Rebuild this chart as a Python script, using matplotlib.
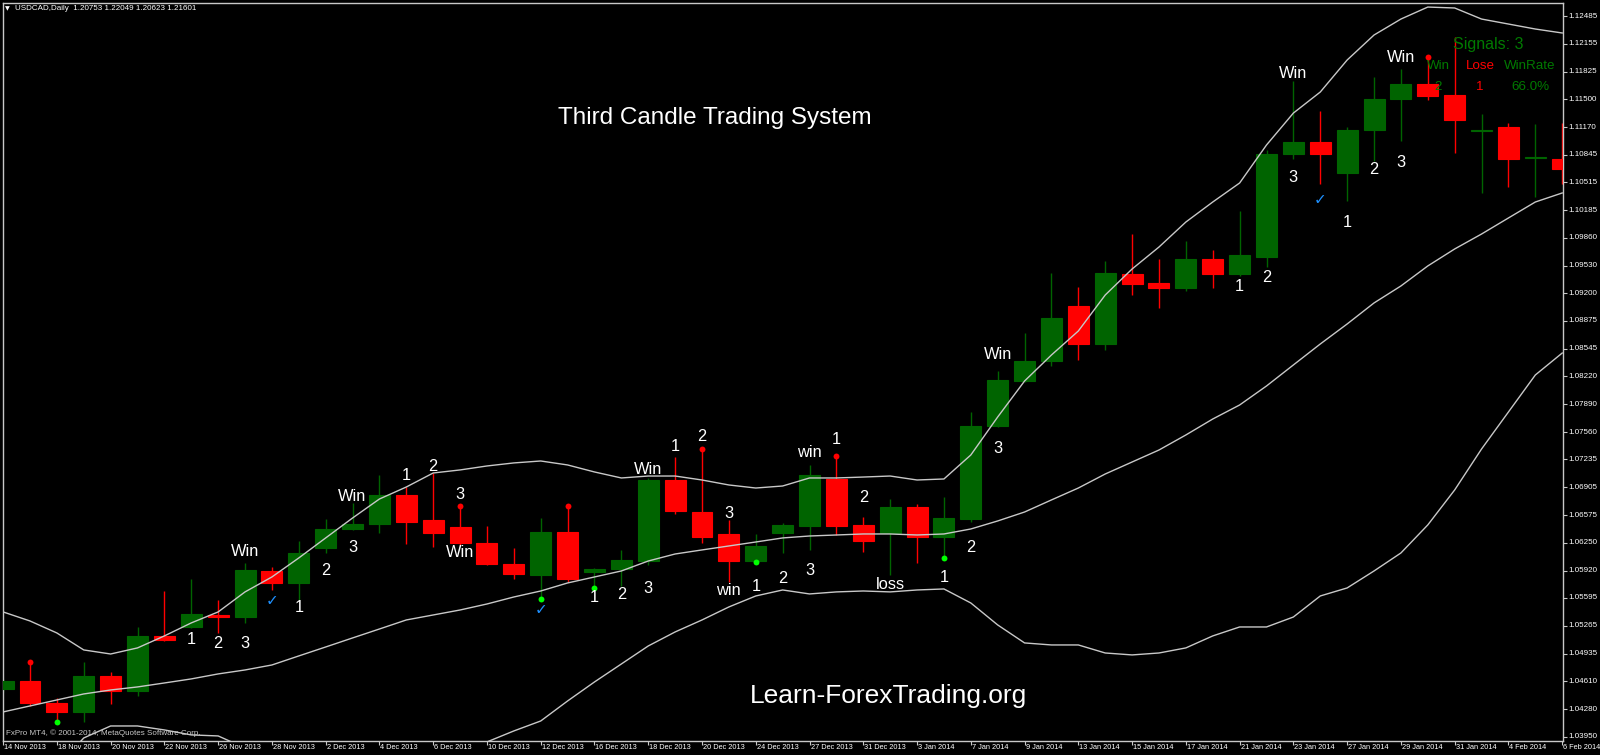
import matplotlib
matplotlib.use("Agg")
import matplotlib.pyplot as plt
import matplotlib.transforms as mtransforms
from matplotlib.patches import Rectangle

plt.rcParams['font.family'] = ['Liberation Sans', 'DejaVu Sans']

# ---------------- data ----------------
opens = [1.04518, 1.04613, 1.04352, 1.04246, 1.04672, 1.04495, 1.05146, 1.05252, 1.05394, 1.05371,
         1.05915, 1.05773, 1.06187, 1.06412, 1.06471, 1.06815, 1.06519, 1.06436, 1.06246, 1.05998,
         1.05868, 1.06377, 1.05903, 1.05939, 1.06033, 1.06992, 1.06614, 1.06353, 1.06033, 1.06365,
         1.06448, 1.07004, 1.06460, 1.06365, 1.06673, 1.06318, 1.06531, 1.07632, 1.08164, 1.08401,
         1.09052, 1.08602, 1.09431, 1.09324, 1.09265, 1.09608, 1.09431, 1.09632, 1.10851, 1.10993,
         1.10627, 1.11135, 1.11502, 1.11680, 1.11550, 1.11124, 1.11171, 1.10804, 1.10792]
highs = [1.04637, 1.04837, 1.04412, 1.04838, 1.04719, 1.05252, 1.05678, 1.05820, 1.05572, 1.06010,
         1.05962, 1.06270, 1.06531, 1.06720, 1.07051, 1.06909, 1.07075, 1.06684, 1.06448, 1.06187,
         1.06542, 1.06684, 1.05951, 1.06164, 1.07016, 1.07265, 1.07359, 1.06519, 1.06353, 1.06483,
         1.07170, 1.07276, 1.06554, 1.06767, 1.06708, 1.06791, 1.07797, 1.08283, 1.08732, 1.09443,
         1.09277, 1.09585, 1.09904, 1.09608, 1.09821, 1.09715, 1.10177, 1.10899, 1.11716, 1.11360,
         1.11171, 1.11763, 1.11858, 1.11999, 1.12236, 1.11325, 1.11218, 1.11206, 1.11218]
lows = [1.04483, 1.04317, 1.04127, 1.04128, 1.04341, 1.04435, 1.05086, 1.05240, 1.05181, 1.05300,
        1.05690, 1.05572, 1.06128, 1.06400, 1.06365, 1.06235, 1.06199, 1.06223, 1.05986, 1.05820,
        1.05583, 1.05785, 1.05713, 1.05737, 1.05986, 1.06590, 1.06246, 1.05785, 1.06021, 1.06128,
        1.06164, 1.06341, 1.06140, 1.05868, 1.06010, 1.06069, 1.06495, 1.07620, 1.08152, 1.08342,
        1.08413, 1.08531, 1.09182, 1.09028, 1.09230, 1.09265, 1.09407, 1.09514, 1.10792, 1.10496,
        1.10295, 1.10769, 1.11005, 1.11491, 1.10863, 1.10390, 1.10461, 1.10342, 1.10496]
closes = [1.04613, 1.04352, 1.04246, 1.04672, 1.04495, 1.05146, 1.05098, 1.05406, 1.05371, 1.05927,
          1.05773, 1.06128, 1.06412, 1.06471, 1.06815, 1.06495, 1.06365, 1.06246, 1.05998, 1.05880,
          1.06377, 1.05820, 1.05939, 1.06045, 1.06992, 1.06625, 1.06318, 1.06033, 1.06211, 1.06460,
          1.07051, 1.06448, 1.06270, 1.06673, 1.06318, 1.06542, 1.07632, 1.08176, 1.08401, 1.08910,
          1.08602, 1.09443, 1.09313, 1.09265, 1.09608, 1.09431, 1.09656, 1.10851, 1.10993, 1.10851,
          1.11135, 1.11502, 1.11680, 1.11538, 1.11254, 1.11135, 1.10792, 1.10816, 1.10674]

bb_upper = [1.05430, 1.05323, 1.05181, 1.04980, 1.04932, 1.05004, 1.05146, 1.05300, 1.05430, 1.05667,
            1.05844, 1.06069, 1.06306, 1.06542, 1.06767, 1.06909, 1.07075, 1.07111, 1.07158, 1.07194,
            1.07217, 1.07170, 1.07087, 1.07016, 1.07039, 1.07039, 1.06992, 1.06933, 1.06897, 1.06921,
            1.07016, 1.07016, 1.07027, 1.07039, 1.06992, 1.07004, 1.07288, 1.07738, 1.08164, 1.08472,
            1.08756, 1.09182, 1.09490, 1.09750, 1.10046, 1.10283, 1.10508, 1.10958, 1.11336, 1.11585,
            1.11964, 1.12260, 1.12449, 1.12591, 1.12580, 1.12449, 1.12390, 1.12331, 1.12284]
bb_mid = [1.04246, 1.04317, 1.04388, 1.04459, 1.04506, 1.04542, 1.04589, 1.04637, 1.04696, 1.04743,
          1.04802, 1.04909, 1.05015, 1.05122, 1.05228, 1.05335, 1.05394, 1.05453, 1.05524, 1.05607,
          1.05678, 1.05773, 1.05844, 1.05915, 1.06033, 1.06116, 1.06164, 1.06211, 1.06258, 1.06306,
          1.06329, 1.06341, 1.06353, 1.06353, 1.06341, 1.06353, 1.06412, 1.06507, 1.06613, 1.06756,
          1.06897, 1.07063, 1.07205, 1.07347, 1.07525, 1.07714, 1.07880, 1.08105, 1.08354, 1.08602,
          1.08839, 1.09088, 1.09289, 1.09526, 1.09727, 1.09904, 1.10094, 1.10283, 1.10390]
bb_lower = [1.03062, 1.03311, 1.03595, 1.03938, 1.04080, 1.04080, 1.04033, 1.03974, 1.03962, 1.03820,
            1.03761, 1.03749, 1.03725, 1.03701, 1.03690, 1.03761, 1.03713, 1.03796, 1.03891, 1.04021,
            1.04139, 1.04376, 1.04601, 1.04814, 1.05027, 1.05193, 1.05335, 1.05489, 1.05619, 1.05690,
            1.05643, 1.05667, 1.05678, 1.05667, 1.05690, 1.05702, 1.05536, 1.05276, 1.05063, 1.05039,
            1.05039, 1.04944, 1.04921, 1.04944, 1.05004, 1.05146, 1.05252, 1.05252, 1.05370, 1.05619,
            1.05714, 1.05915, 1.06128, 1.06460, 1.06874, 1.07359, 1.07797, 1.08235, 1.08495]

date_labels = ["14 Nov 2013", "18 Nov 2013", "20 Nov 2013", "22 Nov 2013", "26 Nov 2013",
               "28 Nov 2013", "2 Dec 2013", "4 Dec 2013", "6 Dec 2013", "10 Dec 2013",
               "12 Dec 2013", "16 Dec 2013", "18 Dec 2013", "20 Dec 2013", "24 Dec 2013",
               "27 Dec 2013", "31 Dec 2013", "3 Jan 2014", "7 Jan 2014", "9 Jan 2014",
               "13 Jan 2014", "15 Jan 2014", "17 Jan 2014", "21 Jan 2014", "23 Jan 2014",
               "27 Jan 2014", "29 Jan 2014", "31 Jan 2014", "4 Feb 2014", "6 Feb 2014"]
date_bars = [0, 2, 4, 6, 8, 10, 12, 14, 16, 18, 20, 22, 24, 26, 28,
             30, 32, 34, 36, 38, 40, 42, 44, 46, 48, 50, 52, 54, 56, 58]

price_ticks = [1.12485, 1.12155, 1.11825, 1.11500, 1.11170, 1.10845, 1.10515, 1.10185, 1.09860,
               1.09530, 1.09200, 1.08875, 1.08545, 1.08220, 1.07890, 1.07560, 1.07235, 1.06905,
               1.06575, 1.06250, 1.05920, 1.05595, 1.05265, 1.04935, 1.04610, 1.04280, 1.03950]

red_dot_bars = [1, 17, 21, 26, 31, 53]
green_dot_bars = [2, 20, 22, 28, 35]

ann_bar = [7, 8, 9, 9, 11, 12, 13, 13, 15, 16, 17, 17, 22, 23, 24, 24, 25, 26, 27, 27,
           28, 29, 30, 30, 31, 32, 33, 35, 36, 37, 37, 46, 47, 48, 48, 50, 51, 52, 52]
ann_price = [1.05098, 1.05062, 1.05062, 1.06140, 1.05477, 1.05915, 1.06187, 1.06791, 1.07051, 1.07146,
             1.06826, 1.06128, 1.05595, 1.05642, 1.05702, 1.07122, 1.07383, 1.07501, 1.06601, 1.05678,
             1.05737, 1.05820, 1.05915, 1.07312, 1.07477, 1.06779, 1.05749, 1.05832, 1.06187, 1.07359,
             1.08472, 1.09288, 1.09395, 1.10579, 1.11810, 1.10046, 1.10662, 1.10756, 1.11999]
ann_text = ["1", "2", "3", "Win", "1", "2", "3", "Win", "1", "2",
            "3", "Win", "1", "2", "3", "Win", "1", "2", "3", "win",
            "1", "2", "3", "win", "1", "2", "loss", "1", "2", "3",
            "Win", "1", "2", "3", "Win", "1", "2", "3", "Win"]

check_bar = [10, 20, 49]
check_price = [1.05571, 1.05453, 1.10318]

signals_total = 3
wins, losses, winrate = 2, 1, "66.0%"

# ---------------- style ----------------
GREEN = '#006400'
RED = '#ff0000'
BAND = '#c8c8c8'
FRAME = '#c8c8c8'
W, H = 1600, 755

fig = plt.figure(figsize=(16, 7.55), dpi=100, facecolor='black')
ax = fig.add_axes([3 / W, (H - 741) / H, 1560 / W, 738 / H])
ax.set_facecolor('black')
ax.set_xlim(-0.004, 58.03)
ax.set_ylim(1.03902, 1.12639)

bw = 0.78
for i, (o, h, l, c) in enumerate(zip(opens, highs, lows, closes)):
    col = GREEN if c >= o else RED
    ax.vlines(i, l, h, color=col, lw=1.0, zorder=2)
    lo, hi = min(o, c), max(o, c)
    ax.add_patch(Rectangle((i - bw / 2, lo), bw, hi - lo, facecolor=col,
                           edgecolor=col, lw=0.8, zorder=3))

xs = list(range(len(bb_mid)))
for band in (bb_upper, bb_mid, bb_lower):
    ax.plot(xs, band, color=BAND, lw=1.0, zorder=4)

ax.scatter(red_dot_bars, [highs[i] for i in red_dot_bars], s=18, color=RED, zorder=5, lw=0)
ax.scatter(green_dot_bars, [lows[i] for i in green_dot_bars], s=18, color='#00ff00', zorder=5, lw=0)

for b, p, t in zip(ann_bar, ann_price, ann_text):
    ax.text(b, p, t, color='white', fontsize=11.8, ha='center', va='center', zorder=6)
for b, p in zip(check_bar, check_price):
    ax.text(b, p, '\u2713', color='#1e90ff', fontsize=11, ha='center', va='center',
            family=['DejaVu Sans'], zorder=6)

# frame / ticks
for s in ax.spines.values():
    s.set_color(FRAME)
    s.set_linewidth(1.0)
ax.yaxis.tick_right()
ax.set_yticks(price_ticks)
ax.set_xticks(date_bars)
ax.tick_params(axis='both', colors=FRAME, length=3, width=0.8, direction='out',
               labelleft=False, labelright=False, labelbottom=False)

ytrans = mtransforms.offset_copy(
    mtransforms.blended_transform_factory(ax.transAxes, ax.transData), fig=fig, x=5, y=0, units='dots')
for p in price_ticks:
    ax.text(1.0, p, f"{p:.5f}", transform=ytrans, color='white', fontsize=5.8,
            ha='left', va='center', clip_on=False)
xtrans = mtransforms.offset_copy(ax.get_xaxis_transform(), fig=fig, x=1, y=-3, units='dots')
for b, lab in zip(date_bars, date_labels):
    ax.text(b, 0, lab, transform=xtrans, color='white', fontsize=5.3,
            ha='left', va='top', clip_on=False)

# texts
def fx(px):
    return px / W

def fy(py):
    return 1 - py / H

fig.text(fx(7), fy(9), '\u25BC', color='white', fontsize=4.5, ha='center', va='center',
         family=['DejaVu Sans'])
fig.text(fx(15), fy(9), 'USDCAD,Daily  1.20753 1.22049 1.20623 1.21601', color='white',
         fontsize=5.8, ha='left', va='center')
fig.text(fx(6), fy(733), 'FxPro MT4, \u00a9 2001-2014, MetaQuotes Software Corp.', color='#c8c8c8',
         fontsize=5.8, ha='left', va='center')
fig.text(fx(715), fy(124), 'Third Candle Trading System', color='white', fontsize=17.5,
         ha='center', va='baseline')
fig.text(fx(888), fy(703), 'Learn-ForexTrading.org', color='white', fontsize=19,
         ha='center', va='baseline')

SIG = '#007a00'
fig.text(fx(1488), fy(45), f'Signals: {signals_total}', color=SIG, fontsize=11.5, ha='center', va='center')
fig.text(fx(1438), fy(66), 'Win', color=SIG, fontsize=9.6, ha='center', va='center')
fig.text(fx(1480), fy(66), 'Lose', color=RED, fontsize=9.6, ha='center', va='center')
fig.text(fx(1530), fy(66), 'WinRate', color=SIG, fontsize=9.6, ha='center', va='center')
fig.text(fx(1438), fy(87), f'{wins}', color=SIG, fontsize=9.6, ha='center', va='center')
fig.text(fx(1480), fy(87), f'{losses}', color=RED, fontsize=9.6, ha='center', va='center')
fig.text(fx(1530), fy(87), winrate, color=SIG, fontsize=9.6, ha='center', va='center')

fig.savefig('out.png', dpi=100, facecolor='black')
